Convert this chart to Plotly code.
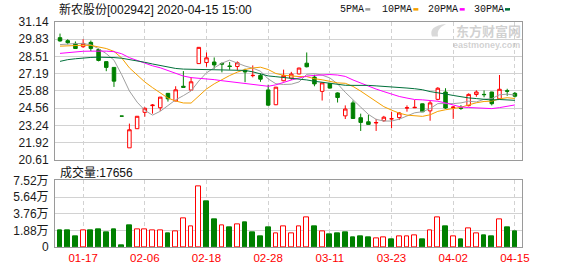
import plotly.graph_objects as go

# ---------------- data ----------------
dates = ["2020-01-14","2020-01-15","2020-01-16","2020-01-17","2020-01-20","2020-01-21","2020-01-22","2020-01-23",
         "2020-02-03","2020-02-04","2020-02-05","2020-02-06","2020-02-07","2020-02-10","2020-02-11","2020-02-12",
         "2020-02-13","2020-02-14","2020-02-17","2020-02-18","2020-02-19","2020-02-20","2020-02-21","2020-02-24",
         "2020-02-25","2020-02-26","2020-02-27","2020-02-28","2020-03-02","2020-03-03","2020-03-04","2020-03-05",
         "2020-03-06","2020-03-09","2020-03-10","2020-03-11","2020-03-12","2020-03-13","2020-03-16","2020-03-17",
         "2020-03-18","2020-03-19","2020-03-20","2020-03-23","2020-03-24","2020-03-25","2020-03-26","2020-03-27",
         "2020-03-30","2020-03-31","2020-04-01","2020-04-02","2020-04-03","2020-04-07","2020-04-08","2020-04-09",
         "2020-04-10","2020-04-13","2020-04-14","2020-04-15"]

opens  = [29.95,29.72,29.51,29.26,29.59,29.04,28.12,27.68,23.96,21.54,23.00,24.25,24.76,24.60,25.70,25.12,
          26.24,25.95,27.97,28.05,28.09,27.98,27.79,27.75,27.46,27.05,27.07,25.96,24.83,26.66,26.86,27.18,
          28.00,26.94,25.85,26.46,25.73,23.98,24.97,23.84,23.53,23.44,23.61,23.75,23.85,24.58,24.60,24.90,
          24.36,25.24,25.80,24.60,24.60,24.76,25.61,25.62,25.80,25.28,25.90,25.70]
highs  = [30.26,29.83,29.66,29.83,29.73,29.12,28.14,27.70,23.96,23.39,23.97,24.63,24.88,25.43,25.72,26.24,
          27.40,26.93,29.23,28.82,28.44,28.06,28.09,28.14,27.58,27.83,27.21,26.36,26.19,27.51,27.34,27.66,
          28.82,27.12,26.52,26.48,25.78,24.78,25.15,24.15,24.07,23.75,23.98,24.30,24.27,24.78,25.19,24.92,
          25.15,26.17,26.09,24.72,24.80,25.70,25.93,25.92,25.82,27.10,26.05,25.80]
lows   = [29.64,29.44,29.10,29.17,28.92,28.14,27.39,26.19,23.96,21.54,22.98,23.92,24.15,24.36,25.07,25.10,
          26.16,25.88,27.95,27.73,27.58,27.30,27.50,27.47,26.55,26.92,26.58,24.73,24.80,26.62,26.72,27.15,
          27.68,26.24,25.15,26.08,25.00,23.74,23.75,22.83,23.31,22.83,23.53,23.05,23.66,24.30,24.57,24.27,
          23.61,25.17,24.52,23.75,24.44,24.70,25.44,25.40,24.78,25.24,25.51,25.38]
closes = [29.70,29.57,29.12,29.51,29.13,28.21,27.68,26.63,23.96,22.92,23.95,24.56,24.80,25.41,25.28,25.97,
          26.16,26.58,29.21,28.41,27.87,27.93,27.75,28.03,27.33,27.07,26.78,24.80,26.17,27.07,27.17,27.63,
          27.73,26.42,26.50,26.10,25.38,24.50,23.78,23.48,23.33,23.47,23.88,23.76,24.20,24.60,24.63,24.29,
          24.97,26.09,24.58,24.65,24.56,25.62,25.80,25.60,24.91,26.01,25.86,25.48]
volumes = [18500,18500,11900,18800,18500,20000,17000,20000,2000,24000,20000,20000,19000,19000,15000,18000,
           32000,23500,69000,51700,31500,24600,21700,25700,28200,16300,11900,21700,15900,23500,15300,23600,
           33500,22900,18200,14500,15300,16400,10900,12000,10900,9500,10500,8700,11600,11600,12700,8700,
           19300,33500,22900,11600,8700,21500,15300,13100,12000,31300,21800,17656]

# moving-average values before a full window exists
ma5_head  = [29.42,29.48,29.50,29.50]
ma10_head = [29.30,29.33,29.36,29.37,29.36,29.25,29.12,28.90,28.40]
ma20_head = [28.75,28.82,28.88,28.91,28.92,28.93,28.92,28.88,28.72,28.42,28.20,27.97,27.80,27.65,27.46,
             27.22,27.02,26.90,26.85]
ma30_head = [28.14,28.27,28.34,28.41,28.44,28.46,28.46,28.43,28.38,28.29,28.19,28.07,27.94,27.83,27.70,
             27.60,27.55,27.54,27.54,27.54,27.54,27.53,27.52,27.50,27.45,27.34,27.16,27.03,26.97]

price_ticks = [20.61,21.92,23.24,24.56,25.88,27.19,28.51,29.83,31.14]
vol_ticks = [0,18800,37600,56400,75200]
vol_tick_text = ["0","1.88万","3.76万","5.64万","7.52万"]
label_dates = ["2020-01-17","2020-02-06","2020-02-18","2020-02-28","2020-03-11","2020-03-23","2020-04-02","2020-04-15"]
label_text = ["01-17","02-06","02-18","02-28","03-11","03-23","04-02","04-15"]
title_text = "新农股份[002942] 2020-04-15 15:00"
vol_text = "成交量:17656"
ma_names = ["5PMA","10PMA","20PMA","30PMA"]

# ---------------- helpers ----------------
def sma(vals, n, head):
    out = list(head)
    for i in range(n - 1, len(vals)):
        out.append(sum(vals[i - n + 1:i + 1]) / n)
    return out

ma_series = [sma(closes, 5, ma5_head), sma(closes, 10, ma10_head),
             sma(closes, 20, ma20_head), sma(closes, 30, ma30_head)]
ma_colors = ["#a0a0a0", "#f5a000", "#ff00ff", "#00703a"]

RED = "#ff0000"
GREEN = "#008000"
vol_fill, vol_line = [], []
for i, c in enumerate(closes):
    ref = closes[i - 1] if i > 0 else opens[0]
    up = c >= ref
    vol_fill.append("#ffffff" if up else GREEN)
    vol_line.append(RED if up else GREEN)

# plot area in pixels
L, R, T, B = 55, 522, 22, 255
W, H = R - L, B - T
def px(x): return (x - L) / W
def py(y): return (B - y) / H

fig = go.Figure()
fig.add_trace(go.Candlestick(
    x=dates, open=opens, high=highs, low=lows, close=closes,
    increasing=dict(line=dict(color=RED, width=1), fillcolor="#ffffff"),
    decreasing=dict(line=dict(color=GREEN, width=1), fillcolor=GREEN),
    whiskerwidth=0, xaxis="x", yaxis="y", hoverinfo="skip"))
for ys, col in zip(ma_series, ma_colors):
    fig.add_trace(go.Scatter(x=dates, y=ys, mode="lines", line=dict(color=col, width=1),
                             xaxis="x", yaxis="y", hoverinfo="skip"))
fig.add_trace(go.Bar(x=dates, y=volumes, width=0.62,
                     marker=dict(color=vol_fill, line=dict(color=vol_line, width=1)),
                     xaxis="x2", yaxis="y2", hoverinfo="skip"))

FONT = "Liberation Sans, Arial, Noto Sans CJK SC"
grid = "#d2d2d2"
frame = "#9a9a9a"
xcommon = dict(type="category", range=[-0.65, 59.92], tickmode="array", tickvals=label_dates,
               showgrid=True, gridcolor=grid, griddash="4px,3px", gridwidth=1,
               showline=True, mirror=True, linecolor=frame, linewidth=1, zeroline=False, ticks="")
fig.update_layout(
    width=578, height=276, margin=dict(l=L, r=578 - R, t=T, b=276 - B),
    paper_bgcolor="white", plot_bgcolor="white", showlegend=False, bargap=0,
    boxgap=0.35,
    font=dict(family=FONT, size=12, color="#222"),
    xaxis=dict(xcommon, anchor="y", showticklabels=False, rangeslider=dict(visible=False)),
    xaxis2=dict(xcommon, anchor="y2", matches="x", ticktext=label_text, showticklabels=True,
                tickfont=dict(family=FONT, size=11.5, color=RED)),
    yaxis=dict(domain=[py(165), 1], range=[20.605, 31.145], tickmode="array", tickvals=price_ticks,
               ticktext=[f"{v:.2f}" for v in price_ticks], showgrid=True, gridcolor=grid,
               showline=True, mirror=True, linecolor=frame, zeroline=False, ticks="",
               ticklabelstandoff=3, tickfont=dict(family=FONT, size=12, color="#1a1a1a")),
    yaxis2=dict(domain=[0, py(186)], range=[0, 75300], tickmode="array", tickvals=vol_ticks,
                ticktext=vol_tick_text, showgrid=True, gridcolor=grid,
                showline=True, mirror=True, linecolor=frame, zeroline=False, ticks="",
                ticklabelstandoff=3, tickfont=dict(family=FONT, size=12, color="#1a1a1a")),
)

ann = []
ann.append(dict(x=px(56.5), y=py(8.6), xref="paper", yref="paper", xanchor="left", yanchor="middle",
                text=title_text, showarrow=False, font=dict(family=FONT, size=12, color="#111")))
ann.append(dict(x=px(57.5), y=py(177.6), xref="paper", yref="paper", xanchor="left", yanchor="middle",
                text=vol_text, showarrow=False, font=dict(family=FONT, size=12, color="#111")))
leg_x = [338.3, 380.0, 426.0, 471.7]
sq_x = [365.3, 413.3, 459.7, 505.0]
shapes = []
for name, lx, sx, col in zip(ma_names, leg_x, sq_x, ma_colors):
    ann.append(dict(x=px(lx), y=py(8.8), xref="paper", yref="paper", xanchor="left", yanchor="middle",
                    text=name, showarrow=False,
                    font=dict(family="Liberation Mono, DejaVu Sans Mono", size=10, color="#111")))
    shapes.append(dict(type="rect", xref="paper", yref="paper", x0=px(sx), x1=px(sx + 5),
                       y0=py(10.2), y1=py(7.6), fillcolor=col, line=dict(width=0)))
# watermark
ann.append(dict(x=px(488), y=py(30.5), xref="paper", yref="paper", xanchor="center", yanchor="middle",
                text="<b>东方财富网</b>", showarrow=False,
                font=dict(family="Noto Sans CJK SC", size=13, color="rgba(170,170,170,0.55)")))
ann.append(dict(x=px(486), y=py(46), xref="paper", yref="paper", xanchor="center", yanchor="middle",
                text="<b>eastmoney.com</b>", showarrow=False,
                font=dict(family="Liberation Sans", size=9, color="rgba(170,170,170,0.55)")))
shapes.append(dict(type="path", xref="paper", yref="paper",
                   path=f"M {px(432)},{py(37)} Q {px(428)},{py(26)} {px(446)},{py(24)} Q {px(436)},{py(29)} {px(438)},{py(37)} Z",
                   fillcolor="rgba(170,170,170,0.45)", line=dict(width=0)))
fig.update_layout(annotations=ann, shapes=shapes)

fig.write_html("out.html")
